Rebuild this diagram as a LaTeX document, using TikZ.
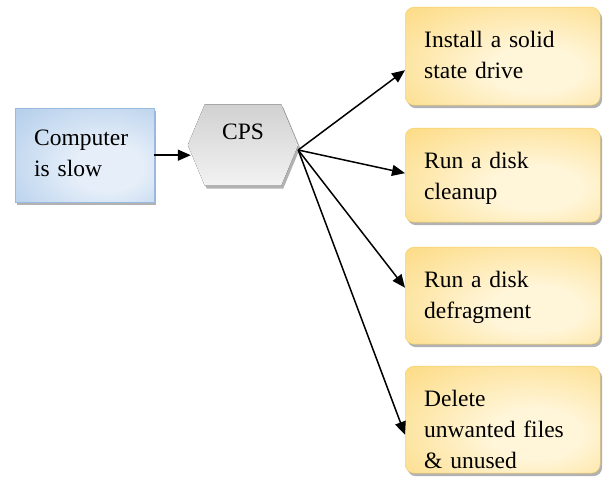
\documentclass[tikz,border=0pt]{standalone}
\usepackage{fontspec}
\setmainfont{Liberation Serif}
\usetikzlibrary{shadows,arrows.meta,backgrounds}
\definecolor{blueA}{HTML}{9DBFE5}
\definecolor{blueB}{HTML}{E6EFF9}
\definecolor{blueline}{HTML}{9BBAE0}
\definecolor{goldA}{HTML}{FBD060}
\definecolor{goldB}{HTML}{FFF5D8}
\definecolor{goldline}{HTML}{F5CC5A}
% light centre, pushed a little to the lower right, darker rim
\pgfdeclareradialshading{blueglow}{\pgfpoint{10bp}{-8bp}}{color(0bp)=(blueB); color(12bp)=(blueB); color(35bp)=(blueA!55!blueB); color(55bp)=(blueA); color(75bp)=(blueA)}
\pgfdeclareradialshading{goldglow}{\pgfpoint{10bp}{-8bp}}{color(0bp)=(goldB); color(12bp)=(goldB); color(35bp)=(goldA!55!goldB); color(55bp)=(goldA); color(75bp)=(goldA)}
\begin{document}
\begin{tikzpicture}[x=1pt, y=-1pt,
        font=\fontsize{23.5}{31}\selectfont,
        shade/.style={drop shadow={shadow xshift=2pt, shadow yshift=-3pt, fill=black, opacity=.3}},
        txtbox/.style={rectangle, align=left, inner xsep=19pt, inner ysep=0pt, text height=40pt, anchor=north west, shade},
        slowbox/.style={txtbox, draw=blueline, shading=blueglow},
        fixbox/.style={txtbox, rounded corners=9pt, draw=goldline, shading=goldglow, text width=157pt},
        arr/.style={-{Triangle[length=13pt,width=11pt]}, line width=1.5pt}]
        \useasboundingbox (0, 0) rectangle (603, 502);
        \node[slowbox, text width=101pt, text height=37pt, text depth=57pt] (slow) at (15, 108) {Computer\\is slow};
        % hexagon frame, filled behind the text
        \node[minimum width=110pt, minimum height=81pt, inner sep=0pt, text height=16pt, text depth=26pt] (cps) at (243, 145) {CPS};
        \begin{scope}[on background layer]
            \fill[top color=black!18, bottom color=black!5, shade]
                (cps.west) -- ([xshift=17pt]cps.north west) -- ([xshift=-17pt]cps.north east) -- (cps.east)
                -- ([xshift=-17pt]cps.south east) -- ([xshift=17pt]cps.south west) -- cycle;
        \end{scope}
        \draw[arr] (slow.east) -- ([xshift=3pt]slow.east -| cps.west);
        \foreach \n/\y/\d/\s/\t in {1/7/58/-14/{Install a solid\\state drive},
                                    2/128/54/2/{Run a disk\\cleanup},
                                    3/247/57/8/{Run a disk\\defragment},
                                    4/366/67/-15/{Delete\\unwanted files\\\& unused}} {
            \node[fixbox, text depth=\d pt] (fix\n) at (405, \y) {\t};
            \draw[arr] ([yshift=-5pt]cps.east) -- ([yshift=\s pt]fix\n.west);
        }
    \end{tikzpicture}
\end{document}
